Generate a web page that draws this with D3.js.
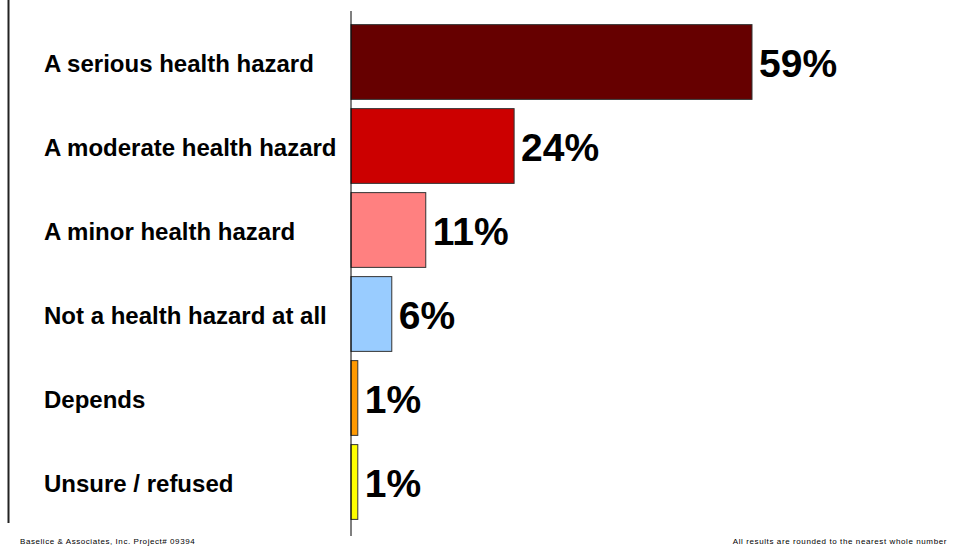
<!DOCTYPE html>
<html><head><meta charset="utf-8">
<script src="https://cdn.jsdelivr.net/npm/d3@7"></script>
<style>
html,body{margin:0;padding:0;background:#fff;}
svg{display:block;font-family:"Liberation Sans",Arial,sans-serif;}
</style></head>
<body>
<svg id="chart" width="956" height="546"></svg>
<script>
const categories = ["A serious health hazard","A moderate health hazard","A minor health hazard","Not a health hazard at all","Depends","Unsure / refused"];
const values = [59, 24, 11, 6, 1, 1];
const colors = ["#660000","#CC0000","#FF8080","#99CCFF","#FF9900","#FFFF00"];
const footerLeft = "Baselice & Associates, Inc. Project# 09394";
const footerRight = "All results are rounded to the nearest whole number";

const svg = d3.select("#chart");
const x = d3.scaleLinear().domain([0, 60]).range([351, 351 + 401/59*60]);
const y = d3.scaleBand().domain(categories).range([20, 524]).paddingInner(0.11).paddingOuter(0.055);

// left border line
svg.append("line").attr("x1", 8.5).attr("x2", 8.5).attr("y1", 0).attr("y2", 523)
  .attr("stroke", "#222").attr("stroke-width", 2);

// bars
svg.selectAll("rect.bar").data(categories).join("rect")
  .attr("class", "bar")
  .attr("x", x(0))
  .attr("y", d => y(d))
  .attr("width", (d, i) => x(values[i]) - x(0))
  .attr("height", y.bandwidth())
  .attr("fill", (d, i) => colors[i])
  .attr("stroke", "#333").attr("stroke-width", 1);

// axis line
svg.append("line").attr("x1", 351).attr("x2", 351).attr("y1", 11).attr("y2", 536)
  .attr("stroke", "#000").attr("stroke-width", 1);

// category labels
svg.selectAll("text.cat").data(categories).join("text")
  .attr("class", "cat")
  .attr("x", 44)
  .attr("y", d => y(d) + y.bandwidth()/2 + 9.5)
  .attr("font-size", 24).attr("font-weight", "bold").attr("fill", "#000")
  .text(d => d);

// value labels
svg.selectAll("text.val").data(categories).join("text")
  .attr("class", "val")
  .attr("x", (d, i) => x(values[i]) + 7)
  .attr("y", d => y(d) + y.bandwidth()/2 + 15)
  .attr("font-size", 39).attr("font-weight", "bold").attr("fill", "#000")
  .text((d, i) => values[i] + "%");

// footers
svg.append("text").attr("x", 20).attr("y", 544).attr("font-size", 8).attr("fill", "#000")
  .attr("letter-spacing", 0.56).text(footerLeft);
svg.append("text").attr("x", 947).attr("y", 544).attr("font-size", 8).attr("fill", "#000")
  .attr("text-anchor", "end").attr("letter-spacing", 0.6).text(footerRight);
</script>
</body></html>
